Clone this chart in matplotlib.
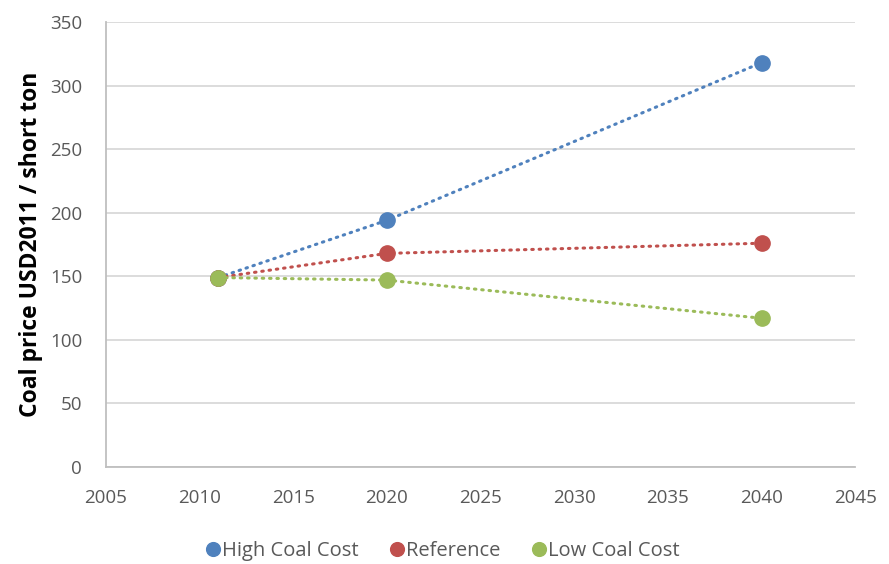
import numpy as np
import matplotlib.pyplot as plt

plt.rcParams['font.family'] = ['Open Sans', 'DejaVu Sans']

years = [2011, 2020, 2040]
high_cost = [149, 194, 318]
reference = [149, 168, 176]
low_cost = [149, 147, 117]

series = [
    ('High Coal Cost', high_cost, '#4F81BD'),
    ('Reference', reference, '#C0504D'),
    ('Low Coal Cost', low_cost, '#9BBB59'),
]

fig = plt.figure(figsize=(8.89, 5.64), dpi=100)
ax = fig.add_axes([0.119, 0.172, 0.843, 0.789])

for name, vals, col in series:
    ax.plot(years, vals, color=col, lw=2.2, linestyle=(0, (0.5, 1.9)),
            dash_capstyle='round', marker='o', markersize=11, label=name,
            zorder=3)

ax.set_xlim(2005, 2045)
ax.set_ylim(0, 350)
ax.set_xticks(np.arange(2005, 2046, 5))
ax.set_yticks(np.arange(0, 351, 50))
ax.grid(axis='y', color='#D9D9D9', lw=1.3)
ax.set_axisbelow(True)
for s in ['top', 'right']:
    ax.spines[s].set_visible(False)
ax.spines['left'].set_color('#BFBFBF')
ax.spines['bottom'].set_color('#BFBFBF')
ax.spines['left'].set_linewidth(1.3)
ax.spines['bottom'].set_linewidth(1.3)
ax.tick_params(length=0, labelsize=13.5, labelcolor='#595959')
ax.tick_params(axis='x', pad=16)
ax.tick_params(axis='y', pad=17)

ax.set_ylabel('Coal price USD2011 / short ton', fontsize=16.5,
              fontweight='bold', color='black', labelpad=5)

ax.legend(loc='upper center', bbox_to_anchor=(0.45, -0.125), ncol=3,
          frameon=False, fontsize=14.5, labelcolor='#595959',
          handlelength=0.6, handletextpad=0.15, columnspacing=1.6,
          markerscale=0.9)
leg = ax.get_legend()
for h in leg.legend_handles:
    h.set_linestyle('None')

fig.savefig('out.png', dpi=100)
